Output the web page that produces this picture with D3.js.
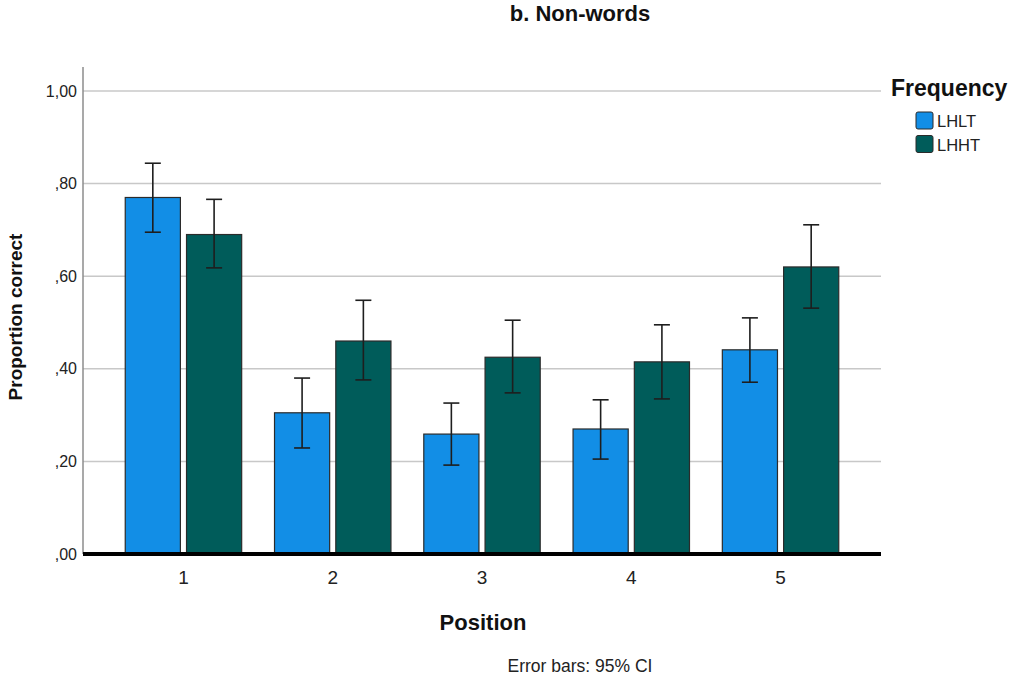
<!DOCTYPE html>
<html>
<head>
<meta charset="utf-8">
<script src="https://cdn.jsdelivr.net/npm/d3@7"></script>
<style>
  body { margin: 0; background: #fff; }
  svg { font-family: "Liberation Sans", Arial, sans-serif; }
</style>
</head>
<body>
<svg id="chart" width="1009" height="680"></svg>
<script>
// data
const positions = ["1", "2", "3", "4", "5"];
const groups = ["LHLT", "LHHT"];
const lhltMean = [0.770, 0.305, 0.259, 0.270, 0.441];
const lhltLow  = [0.695, 0.229, 0.192, 0.205, 0.371];
const lhltHigh = [0.844, 0.380, 0.326, 0.333, 0.510];
const lhhtMean = [0.690, 0.460, 0.425, 0.415, 0.620];
const lhhtLow  = [0.618, 0.376, 0.348, 0.335, 0.531];
const lhhtHigh = [0.766, 0.548, 0.505, 0.495, 0.711];
const yTicks = [0, 0.2, 0.4, 0.6, 0.8, 1.0];
const colors = { LHLT: "#128ee6", LHHT: "#005c5a" };

const rows = [];
positions.forEach((p, i) => {
  rows.push({ pos: p, key: "LHLT", v: lhltMean[i], lo: lhltLow[i], hi: lhltHigh[i] });
  rows.push({ pos: p, key: "LHHT", v: lhhtMean[i], lo: lhhtLow[i], hi: lhhtHigh[i] });
});

const svg = d3.select("#chart");
const plot = { left: 83, right: 881, top: 67, bottom: 554 };

const x0 = d3.scaleBand().domain(positions).range([plot.left, plot.right])
  .paddingInner(0.22).paddingOuter(0.283);
const x1 = d3.scaleBand().domain(groups).range([0, x0.bandwidth()]).paddingInner(0.1);
const y = d3.scaleLinear().domain([0, 1]).range([plot.bottom, 91]);

// SPSS style: leading zero dropped, decimal comma
const fmt = v => v >= 1 ? d3.format(".2f")(v).replace(".", ",") : d3.format(".2f")(v).replace("0.", ",");

// gridlines
svg.append("g").selectAll("line")
  .data(yTicks.filter(d => d > 0))
  .join("line")
  .attr("x1", plot.left).attr("x2", plot.right)
  .attr("y1", d => y(d)).attr("y2", d => y(d))
  .attr("stroke", "#c8c8c8").attr("stroke-width", 1.5);

// y axis line
svg.append("line")
  .attr("x1", plot.left).attr("x2", plot.left).attr("y1", plot.top).attr("y2", plot.bottom)
  .attr("stroke", "#8c8c8c").attr("stroke-width", 1.5);

// y ticks
svg.append("g").selectAll("text")
  .data(yTicks)
  .join("text")
  .attr("x", plot.left - 6).attr("y", d => y(d) + 5.5)
  .attr("text-anchor", "end")
  .attr("font-size", 16)
  .attr("fill", "#222")
  .text(fmt);

// bars
const g = svg.append("g");
g.selectAll("rect")
  .data(rows)
  .join("rect")
  .attr("x", d => x0(d.pos) + x1(d.key))
  .attr("y", d => y(d.v))
  .attr("width", x1.bandwidth())
  .attr("height", d => y(0) - y(d.v))
  .attr("fill", d => colors[d.key])
  .attr("stroke", "#2b2b2b").attr("stroke-width", 1.2);

// error bars
const cap = 8;
const eb = svg.append("g").attr("stroke", "#1e1e1e").attr("stroke-width", 1.6);
rows.forEach(d => {
  const cx = x0(d.pos) + x1(d.key) + x1.bandwidth() / 2;
  eb.append("line").attr("x1", cx).attr("x2", cx).attr("y1", y(d.hi)).attr("y2", y(d.lo));
  eb.append("line").attr("x1", cx - cap).attr("x2", cx + cap).attr("y1", y(d.hi)).attr("y2", y(d.hi));
  eb.append("line").attr("x1", cx - cap).attr("x2", cx + cap).attr("y1", y(d.lo)).attr("y2", y(d.lo));
});

// baseline
svg.append("line")
  .attr("x1", plot.left).attr("x2", plot.right).attr("y1", plot.bottom).attr("y2", plot.bottom)
  .attr("stroke", "#000").attr("stroke-width", 4);

// x ticks
svg.append("g").selectAll("text")
  .data(positions)
  .join("text")
  .attr("x", d => x0(d) + x0.bandwidth() / 2)
  .attr("y", 584)
  .attr("text-anchor", "middle")
  .attr("font-size", 19)
  .attr("fill", "#222")
  .text(d => d);

// titles
svg.append("text").attr("x", 580).attr("y", 21).attr("text-anchor", "middle")
  .attr("font-size", 22).attr("font-weight", "bold").attr("fill", "#111").text("b. Non-words");
svg.append("text").attr("x", 483).attr("y", 630).attr("text-anchor", "middle")
  .attr("font-size", 22).attr("font-weight", "bold").attr("fill", "#111").text("Position");
svg.append("text").attr("x", 580).attr("y", 672).attr("text-anchor", "middle")
  .attr("font-size", 17.5).attr("fill", "#222").text("Error bars: 95% CI");
svg.append("text").attr("transform", "translate(22,317) rotate(-90)").attr("text-anchor", "middle")
  .attr("font-size", 19).attr("font-weight", "bold").attr("fill", "#111").text("Proportion correct");

// legend
svg.append("text").attr("x", 891).attr("y", 96)
  .attr("font-size", 23).attr("font-weight", "bold").attr("fill", "#111").text("Frequency");
const lg = svg.append("g").selectAll("g").data(groups).join("g")
  .attr("transform", (d, i) => `translate(916,${112 + i * 23.5})`);
lg.append("rect").attr("width", 17).attr("height", 17).attr("rx", 2)
  .attr("fill", d => colors[d]).attr("stroke", "#2b2b2b").attr("stroke-width", 1);
lg.append("text").attr("x", 21).attr("y", 15).attr("font-size", 16.5).attr("fill", "#222").text(d => d);
</script>
</body>
</html>
